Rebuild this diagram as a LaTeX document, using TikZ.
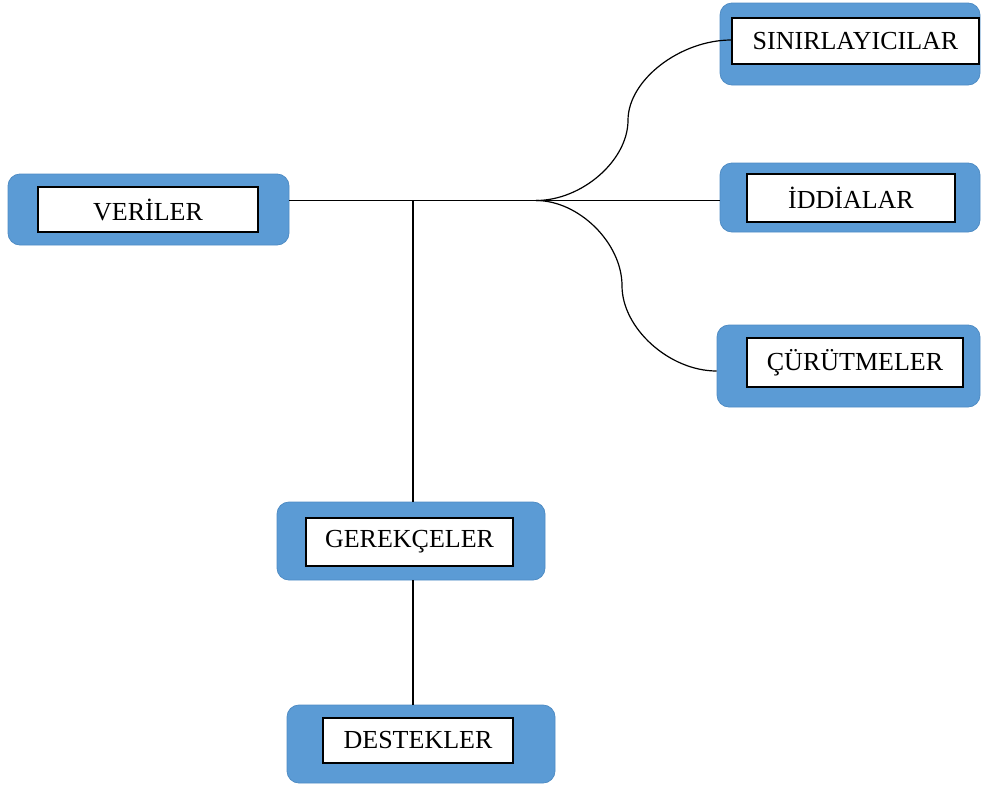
\documentclass[tikz,border=0pt]{standalone}
\usepackage{fontspec}
\setmainfont{Liberation Serif}
\usetikzlibrary{calc}
\definecolor{boxblue}{HTML}{5B9BD5}
\definecolor{boxedge}{HTML}{4F8CC4}
\begin{document}
\begin{tikzpicture}[x=1pt,y=-1pt,
  outerbox/.style={draw=boxedge, line width=0.8pt, fill=boxblue, rounded corners=12pt,
    minimum width=#1, inner sep=0pt},
  innerbox/.style={draw=black, line width=1.2pt, fill=white, inner sep=0pt,
    font=\fontsize{26}{30}\selectfont},
  link/.style={draw=black, line width=1.2pt}]
\useasboundingbox (0,0) rectangle (981,787);

% blue frames
\node[outerbox=281pt, minimum height=71pt] (vo) at (148.5,209.5) {};
\node[outerbox=260pt, minimum height=82pt] (so) at (850,44) {};
\node[outerbox=260pt, minimum height=69pt] (io) at (850,197.5) {};
\node[outerbox=263pt, minimum height=82pt] (co) at (848.5,366) {};
\node[outerbox=268pt, minimum height=78pt] (go) at (411,541) {};
\node[outerbox=268pt, minimum height=78pt] (do) at (421,744) {};

% white labels
\node[innerbox, minimum width=220pt, minimum height=45pt] (vi) at (148,209.5) {VERİLER};
\node[innerbox, minimum width=247pt, minimum height=46pt] (si) at (855.5,41) {SINIRLAYICILAR};
\node[innerbox, minimum width=208pt, minimum height=48pt] (ii) at (851,198) {İDDİALAR};
\node[innerbox, minimum width=216pt, minimum height=49pt] (ci) at (855,362.5) {ÇÜRÜTMELER};
\node[innerbox, minimum width=207pt, minimum height=48pt] (gi) at (409.5,542) {GEREKÇELER};
\node[innerbox, minimum width=190pt, minimum height=45pt] (di) at (418,740.5) {DESTEKLER};

% junctions on the main line
\coordinate (j1) at (413,200.5);
\coordinate (j2) at (536,200.5);
\coordinate (sEnd) at (si.west |- 0,40);
\coordinate (cEnd) at (co.west |- 0,371);

% connectors
\draw[link] (j1 -| vo.east) -- (j1 -| io.west);
\draw[link] (j1) -- (j1 |- go.north);
\draw[link] (go.south -| j1) -- (do.north -| j1);
% two-part curved connectors
\draw[link] (j2) .. controls (582,200.5) and (628,160.4) .. (628,120.25)
                 .. controls (628,80.1) and (680,40) .. (sEnd);
\draw[link] (j2) .. controls (579,200.5) and (622,243.1) .. (622,285.75)
                 .. controls (622,328.4) and (669.5,371) .. (cEnd);
\end{tikzpicture}
\end{document}
